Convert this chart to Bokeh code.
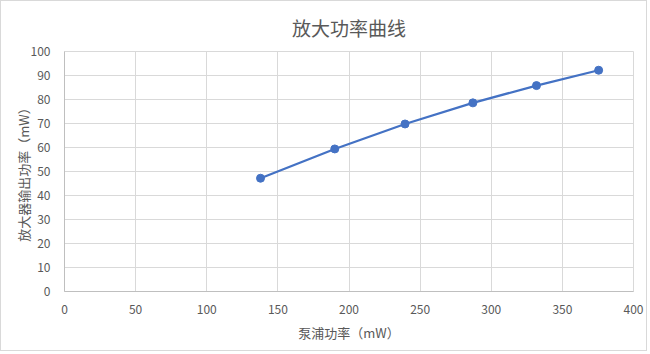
from bokeh.plotting import figure
from bokeh.models import Range1d, FixedTicker, Title
from bokeh.embed import file_html
from bokeh.resources import INLINE

pump_mw = [137.8, 190.0, 239.4, 287.1, 331.8, 375.5]
out_mw = [47.2, 59.4, 69.8, 78.6, 85.8, 92.2]
x_ticks = [0, 50, 100, 150, 200, 250, 300, 350, 400]
y_ticks = [0, 10, 20, 30, 40, 50, 60, 70, 80, 90, 100]

title_text = "放大功率曲线"
x_label = "泵浦功率（mW）"
y_label = "放大器输出功率（mW）"

FONT = "Noto Sans CJK SC"
TXT = "#595959"
GRID = "#d9d9d9"
BLUE = "#4472c4"

W, H = 647, 351
p = figure(width=W, height=H, output_backend="svg", toolbar_location=None,
           x_range=Range1d(0, 400), y_range=Range1d(0, 100),
           min_border_left=63, min_border_right=15, min_border_top=50, min_border_bottom=61)
p.title = None
p.add_layout(Title(text=" ", text_font_size="7px", standoff=0), "above")
p.add_layout(Title(text=title_text, align="center", text_font=FONT, text_font_size="19px",
                   text_color=TXT, text_font_style="normal", standoff=4), "above")

p.outline_line_color = GRID
p.background_fill_color = "white"
p.border_fill_color = "white"
p.styles = {"border": "1px solid #d9d9d9"}

for ax, ticks in ((p.xaxis[0], x_ticks), (p.yaxis[0], y_ticks)):
    ax.ticker = FixedTicker(ticks=ticks)
    ax.major_tick_line_color = None
    ax.minor_tick_line_color = None
    ax.axis_line_color = "#bfbfbf"
    ax.major_label_text_font = FONT
    ax.major_label_text_font_size = "12px"
    ax.major_label_text_color = TXT
    ax.axis_label_text_font = FONT
    ax.axis_label_text_font_size = "13px"
    ax.axis_label_text_color = TXT
    ax.axis_label_text_font_style = "normal"

p.xaxis.axis_label = x_label
p.yaxis.axis_label = y_label
p.xaxis.major_label_standoff = 7
p.yaxis.major_label_standoff = 8
p.xaxis.axis_label_standoff = 6
p.yaxis.axis_label_standoff = -5

p.xgrid.ticker = FixedTicker(ticks=x_ticks)
p.ygrid.ticker = FixedTicker(ticks=y_ticks)
p.xgrid.grid_line_color = GRID
p.ygrid.grid_line_color = GRID

p.line(pump_mw, out_mw, line_color=BLUE, line_width=2.25)
p.scatter(pump_mw, out_mw, size=8, fill_color=BLUE, line_color=BLUE)

open("out.html", "w").write(file_html(p, INLINE))
